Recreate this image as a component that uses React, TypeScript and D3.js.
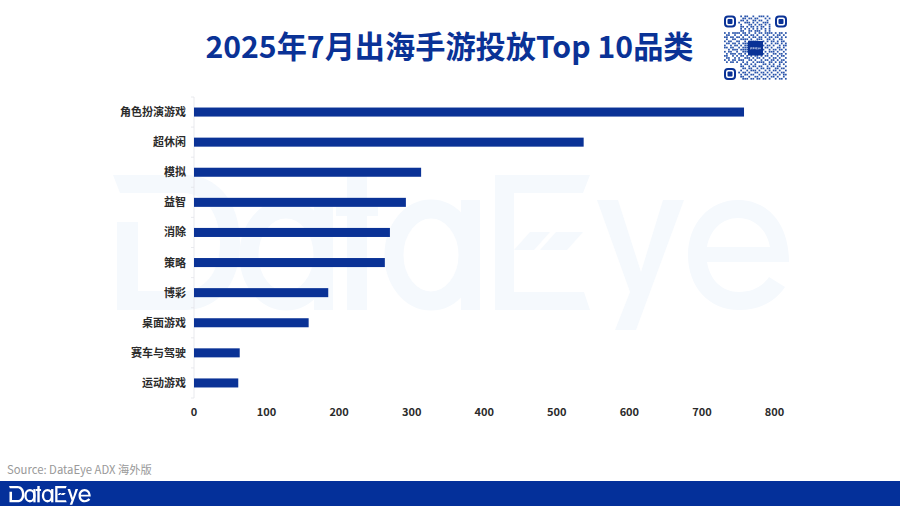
import React from "react";
import * as d3 from "d3";

const categories = ["角色扮演游戏", "超休闲", "模拟", "益智", "消除", "策略", "博彩", "桌面游戏", "赛车与驾驶", "运动游戏"];
const values = [758, 537, 313, 292, 270, 263, 185, 158, 63, 61];
const xTicks = [0, 100, 200, 300, 400, 500, 600, 700, 800];
const titleText = "2025年7月出海手游投放Top 10品类";
const sourceText = "Source: DataEye ADX 海外版";
const qrRows = [
  "1111111010110010011101001111111",
  "1000001001101101100010101000001",
  "1011101011010011011001001011101",
  "1011101100111010100111001011101",
  "1011101010001101011010101011101",
  "1000001011010110101100101000001",
  "1111111010101010101010101111111",
  "0000000011001101110010100000000",
  "1010111101101001011011110101101",
  "0110010010110110100101001011010",
  "1101101101001011011010110110101",
  "0100110011110100111001101001100",
  "1011001100101111100101011010110",
  "0110110101111111111010010110101",
  "1001011010111111111101101001011",
  "1101100101111111111011010011010",
  "0010111011111111111100101101101",
  "1011001001111111111010111010010",
  "0101110110101110010101001101101",
  "1100101011010101101011010010110",
  "0110010100111010110100101101001",
  "1010110111001101001011011010110",
  "0101101001010010111100110101101",
  "0000000010110101000110101001010",
  "1111111011001011011001011011001",
  "1000001001101100101101100110110",
  "1011101010010111010010101101001",
  "1011101101101001101101010010110",
  "1011101010110110010110101101011",
  "1000001011001001101001011010010",
  "1111111001110110110110100101101",
];

const BLUE = "#0a3296";
const FONT = "'Noto Sans CJK SC', 'Noto Sans', sans-serif";

function Logo({ color, transform }: { color: string; transform?: string }) {
  return (
    <g transform={transform} fill={color} stroke="none">
      {/* D */}
      <path d="M113 175 H185 C216 175 240 200 240 243 C240 286 216 310 185 310 H117 V222 H138 V291 H183 C205 291 220 272 220 243 C220 214 205 193 183 193 H120 Z" />
      {/* a */}
      <ellipse cx={286} cy={255} rx={37} ry={46} fill="none" stroke={color} strokeWidth={19} />
      <rect x={314} y={200} width={19} height={110} />
      {/* t */}
      <rect x={347} y={175} width={20} height={135} />
      <rect x={336} y={200} width={42} height={16} />
      {/* a */}
      <ellipse cx={431} cy={255} rx={37} ry={46} fill="none" stroke={color} strokeWidth={19} />
      <rect x={461} y={200} width={19} height={110} />
      {/* E */}
      <path d="M495 175 H590 L583 193 H514 V292 H584 L590 310 H495 Z" />
      <path d="M514 250 L530 232 H550 L534 250 Z" />
      <path d="M540 250 L556 232 H583 L567 250 Z" />
      {/* y */}
      <path d="M597 200 H618 L641 272 L663 200 H684 L636 330 H615 L630 292 Z" />
      {/* e */}
      <path d="M688 255 C688 224 709 200 738 200 C768 200 789 224 789 262 H707 C710 280 722 292 739 292 C752 292 762 287 769 277 L785 287 C775 302 759 310 739 310 C709 310 688 287 688 255 Z M707 247 H770 C767 230 755 218 738 218 C722 218 710 230 707 247 Z" fillRule="evenodd" />
    </g>
  );
}

export default function App() {
  const x = d3.scaleLinear().domain([0, 800]).range([194, 774.5]);
  const y = d3.scaleBand().domain(categories).range([97, 398]).paddingInner(0.7).paddingOuter(0.35);
  const qrX = d3.scaleLinear().domain([0, qrRows.length]).range([724, 787]);
  const qrY = d3.scaleLinear().domain([0, qrRows.length]).range([15.5, 80]);
  const m = qrX(1) - qrX(0);
  const step = y.step();
  const top = y.range()[0];
  const s = 82 / 678;
  return (
    <svg width={900} height={506} viewBox="0 0 900 506"
      style={{ position: "absolute", left: 0, top: 0, background: "#fff", display: "block" }}>
      <Logo color="#f5f9fd" />

      <text x={449.5} y={58} textAnchor="middle" fontFamily={FONT} fontWeight={700} fontSize={30.2} fill={BLUE}>{titleText}</text>

      {qrRows.flatMap((row, r) =>
        Array.from(row).map((c, i) => c === "1" && !(r < 7 && (i < 7 || i > 23)) && !(r > 23 && i < 7) && !(r >= 13 && r <= 17 && i >= 12 && i <= 18)
          ? <rect key={`${r}-${i}`} x={qrX(i)} y={qrY(r)} width={m * 0.85} height={m * 0.85} fill="#2a55ab" />
          : null))}
      {[[724, 15.5], [775, 15.5], [724, 68]].map(([a, b]) => (
        <g key={`${a}-${b}`}>
          <rect x={a + 1} y={b + 1} width={10} height={10} rx={3} fill="none" stroke={BLUE} strokeWidth={2} />
          <rect x={a + 3.5} y={b + 3.5} width={5} height={5} rx={1} fill={BLUE} />
        </g>
      ))}
      <rect x={748} y={41} width={15} height={14.5} fill={BLUE} />
      <Logo color="#fff" transform={`translate(750,47) scale(0.016) translate(-113,-175)`} />

      <line x1={194} x2={194} y1={97} y2={398} stroke="#e3e5ea" strokeWidth={0.8} />
      {d3.range(categories.length + 1).map((i) => (
        <line key={i} x1={191} x2={194} y1={top + i * step} y2={top + i * step} stroke="#e3e5ea" strokeWidth={0.8} />
      ))}

      {categories.map((c, i) => (
        <g key={c}>
          <rect x={x(0)} y={y(c)!} width={x(values[i]) - x(0)} height={y.bandwidth()} fill={BLUE} />
          <text x={186} y={y(c)! + y.bandwidth() / 2 + 4} textAnchor="end" fontFamily={FONT} fontWeight={700} fontSize={11} fill="#2b2b2b">{c}</text>
        </g>
      ))}

      {xTicks.map((t) => (
        <text key={t} x={x(t)} y={416} textAnchor="middle" fontFamily={FONT} fontWeight={700} fontSize={11} fill="#2b2b2b">{t}</text>
      ))}

      <text x={7} y={474} fontFamily={FONT} fontSize={11.3} fill="#999">{sourceText}</text>
      <rect x={0} y={481} width={900} height={25} fill="#04309a" />
      <Logo color="#fff" transform={`translate(9,486) scale(${s}) translate(-113,-175)`} />
    </svg>
  );
}
